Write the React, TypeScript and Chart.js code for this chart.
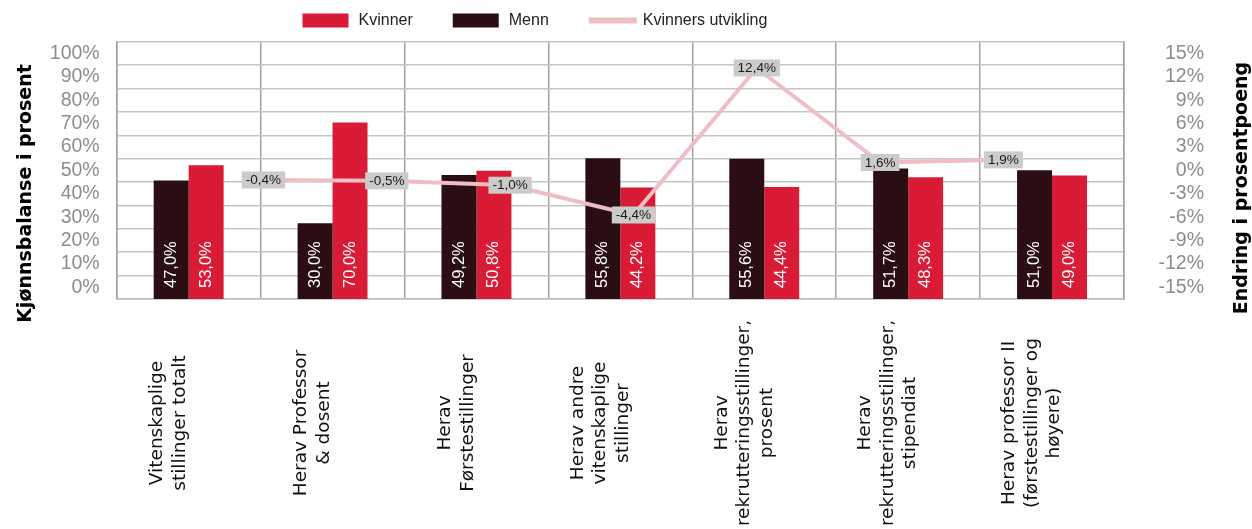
import { useEffect, useRef } from 'react';
import { Chart, BarController, registerables } from 'chart.js';

Chart.register(...registerables);

// Bar controller that groups the two bar series side by side, ignoring the
// separate x scale that the line series uses.
class PairBarController extends (BarController as any) {
  static id = 'pairBar';
  static defaults = (BarController as any).defaults;
  static overrides = (BarController as any).overrides;
  _getAxisCount() {
    return 1;
  }
}
Chart.register(PairBarController as any);

const categories: string[][] = [
  ['Vitenskaplige', 'stillinger totalt'],
  ['Herav Professor', '& dosent'],
  ['Herav', 'Førstestillinger'],
  ['Herav andre', 'vitenskaplige', 'stillinger'],
  ['Herav', 'rekrutteringsstillinger,', 'prosent'],
  ['Herav', 'rekrutteringsstillinger,', 'stipendiat'],
  ['Herav professor II', '(førstestillinger og', 'høyere)'],
];
const menn = [47.0, 30.0, 49.2, 55.8, 55.6, 51.7, 51.0];
const kvinner = [53.0, 70.0, 50.8, 44.2, 44.4, 48.3, 49.0];
const utvikling = [-0.4, -0.5, -1.0, -4.4, 12.4, 1.6, 1.9];
const leftTicks = [0, 10, 20, 30, 40, 50, 60, 70, 80, 90, 100];
const rightTicks = [-15, -12, -9, -6, -3, 0, 3, 6, 9, 12, 15];

const RED = '#d91b36';
const DARK = '#2a0e13';
const PINK = '#efbec5';
const LABEL_BOX = '#cbcbc9';
const TICK_GRAY = '#8d8d8d';

const fmt = (v: number) => v.toFixed(1).replace('.', ',') + '%';

const overlayPlugin = {
  id: 'overlay',
  afterDatasetsDraw(chart: any) {
    const ctx: CanvasRenderingContext2D = chart.ctx;
    [0, 1].forEach((di) => {
      const meta = chart.getDatasetMeta(di);
      const vals = chart.data.datasets[di].data as number[];
      meta.data.forEach((el: any, i: number) => {
        ctx.save();
        ctx.translate(el.x, el.base - 11);
        ctx.rotate(-Math.PI / 2);
        ctx.font = '16.5px "Liberation Sans", Arial, sans-serif';
        ctx.fillStyle = '#ffffff';
        ctx.textAlign = 'left';
        ctx.textBaseline = 'middle';
        ctx.fillText(fmt(vals[i]), 0, 0);
        ctx.restore();
      });
    });
    const lmeta = chart.getDatasetMeta(2);
    lmeta.data.forEach((el: any, i: number) => {
      const txt = fmt(utvikling[i]);
      ctx.save();
      ctx.font = '13.5px "Liberation Sans", Arial, sans-serif';
      const w = ctx.measureText(txt).width + 8;
      const h = 17;
      ctx.fillStyle = LABEL_BOX;
      ctx.fillRect(el.x - w / 2, el.y - h / 2, w, h);
      ctx.fillStyle = '#1a1a1a';
      ctx.textAlign = 'center';
      ctx.textBaseline = 'middle';
      ctx.fillText(txt, el.x, el.y + 0.5);
      ctx.restore();
    });
  },
  afterDraw(chart: any) {
    const ctx: CanvasRenderingContext2D = chart.ctx;
    const xs = chart.scales.x;
    ctx.save();
    ctx.font = '18.5px "DejaVu Sans", sans-serif';
    ctx.fillStyle = '#111111';
    ctx.textAlign = 'center';
    ctx.textBaseline = 'middle';
    const lh = 22.5;
    categories.forEach((lines, i) => {
      const cx = xs.getPixelForValue(i) - 20;
      ctx.save();
      ctx.translate(cx, 423);
      ctx.rotate(-Math.PI / 2);
      lines.forEach((ln, j) => {
        ctx.fillText(ln, 0, (j - (lines.length - 1) / 2) * lh);
      });
      ctx.restore();
    });
    ctx.restore();

    const title = (text: string, x: number, y: number) => {
      ctx.save();
      ctx.font = 'bold 19px "DejaVu Sans", sans-serif';
      ctx.fillStyle = '#000000';
      ctx.textAlign = 'center';
      ctx.textBaseline = 'middle';
      ctx.translate(x, y);
      ctx.rotate(-Math.PI / 2);
      ctx.fillText(text, 0, 0);
      ctx.restore();
    };
    title('Kjønnsbalanse i prosent', 26, 193.5);
    title('Endring i prosentpoeng', 1242, 188);

    ctx.save();
    ctx.font = '16px "Liberation Sans", Arial, sans-serif';
    ctx.textBaseline = 'middle';
    ctx.textAlign = 'left';
    const ly = 20.5;
    let x = 302.5;
    const items = [
      { text: 'Kvinner', color: RED, kind: 'box' },
      { text: 'Menn', color: DARK, kind: 'box' },
      { text: 'Kvinners utvikling', color: PINK, kind: 'line' },
    ];
    items.forEach((it) => {
      if (it.kind === 'box') {
        ctx.fillStyle = it.color;
        ctx.fillRect(x, ly - 7, 46, 14);
        x += 46 + 10;
      } else {
        ctx.strokeStyle = it.color;
        ctx.lineWidth = 6;
        ctx.beginPath();
        ctx.moveTo(x, ly);
        ctx.lineTo(x + 48, ly);
        ctx.stroke();
        x += 48 + 6;
      }
      ctx.fillStyle = '#222222';
      ctx.fillText(it.text, x, ly + 0.5);
      x += ctx.measureText(it.text).width + 40;
    });
    ctx.restore();
  },
};

export default function App() {
  const ref = useRef<HTMLCanvasElement | null>(null);
  useEffect(() => {
    if (!ref.current) return;
    const chart = new Chart(ref.current, {
      type: 'bar',
      data: {
        labels: categories.map((c) => c.join(' ')),
        datasets: [
          {
            type: 'pairBar',
            label: 'Menn',
            data: menn,
            backgroundColor: DARK,
            borderWidth: 0,
            yAxisID: 'yBar',
            xAxisID: 'x',
            order: 2,
            categoryPercentage: 0.486,
            barPercentage: 1,
          } as any,
          {
            type: 'pairBar',
            label: 'Kvinner',
            data: kvinner,
            backgroundColor: RED,
            borderWidth: 0,
            yAxisID: 'yBar',
            xAxisID: 'x',
            order: 3,
            categoryPercentage: 0.486,
            barPercentage: 1,
          } as any,
          {
            type: 'line',
            label: 'Kvinners utvikling',
            data: utvikling.map((v, i) => ({ x: i, y: v })),
            borderColor: PINK,
            backgroundColor: PINK,
            borderWidth: 4,
            pointRadius: 0,
            tension: 0,
            yAxisID: 'yLine',
            xAxisID: 'xLine',
            order: 1,
          } as any,
        ],
      },
      options: {
        animation: false,
        responsive: true,
        maintainAspectRatio: false,
        layout: { padding: { top: 41.7, left: 0, right: 48, bottom: 0 } },
        plugins: {
          legend: { display: false },
          tooltip: { enabled: false },
        },
        scales: {
          x: {
            type: 'category',
            offset: true,
            grid: { display: true, offset: true, color: '#a3a3a3', lineWidth: 1.5, drawTicks: false },
            border: { display: true, color: '#bdbdbd', width: 1.5 },
            ticks: { display: false },
            afterFit: (s: any) => {
              s.height = 230;
            },
          },
          xLine: {
            type: 'linear',
            display: false,
            min: -0.736,
            max: 6.524,
          },
          y: {
            type: 'linear',
            position: 'left',
            min: -5,
            max: 105,
            afterBuildTicks: (s: any) => {
              s.ticks = leftTicks.map((v) => ({ value: v }));
            },
            grid: { display: true, offset: true, color: '#c6c6c6', lineWidth: 1.5, drawTicks: false },
            border: { display: true, color: '#a3a3a3', width: 1.5 },
            ticks: {
              autoSkip: false,
              padding: 17,
              color: TICK_GRAY,
              font: { family: '"Liberation Sans", Arial, sans-serif', size: 19.5 },
              callback: (v: any) => v + '%',
            },
            afterFit: (s: any) => {
              s.width = 116.7;
            },
          },
          yBar: {
            type: 'linear',
            display: false,
            min: 0,
            max: 102,
          },
          yLine: {
            type: 'linear',
            display: false,
            min: -14,
            max: 15.4,
          },
          y2: {
            type: 'linear',
            position: 'right',
            min: -16.5,
            max: 16.5,
            afterBuildTicks: (s: any) => {
              s.ticks = rightTicks.map((v) => ({ value: v }));
            },
            grid: { display: false, drawTicks: false },
            border: { display: true, color: '#a3a3a3', width: 1.5 },
            ticks: {
              autoSkip: false,
              padding: 20,
              crossAlign: 'far',
              color: TICK_GRAY,
              font: { family: '"Liberation Sans", Arial, sans-serif', size: 19.5 },
              callback: (v: any) => v + '%',
            },
            afterFit: (s: any) => {
              s.width = 80;
            },
          },
        } as any,
      },
      plugins: [overlayPlugin],
    });
    return () => chart.destroy();
  }, []);
  return (
    <div style={{ position: 'absolute', left: 0, top: 0, width: '1252px', height: '529px', background: '#ffffff' }}>
      <canvas ref={ref} />
    </div>
  );
}
